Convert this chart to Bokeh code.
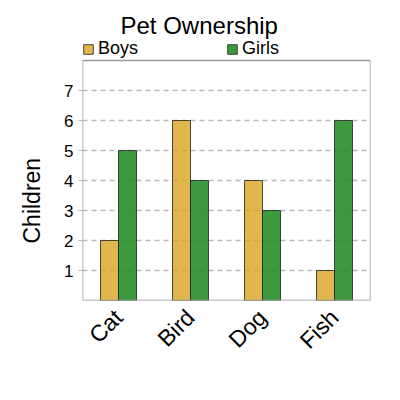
#pet ownership grouped bars

from math import pi
from bokeh.plotting import figure
from bokeh.models import (ColumnDataSource, FixedTicker, Legend, LegendItem, Title,
                          Range1d, BoxAnnotation)
from bokeh.transform import dodge
from bokeh.embed import file_html
from bokeh.resources import INLINE

#data
pets = ["Cat", "Bird", "Dog", "Fish"]
boys = [2, 6, 4, 1]
girls = [5, 4, 3, 6]
y_ticks = [1, 2, 3, 4, 5, 6, 7]
y_max = 8

src = ColumnDataSource(data=dict(pets=pets, boys=boys, girls=girls))

FONT = "Liberation Sans"

#the frame is taller than the drawn box so the legend fits inside it
p = figure(x_range=pets, y_range=Range1d(0, y_max + 22 / 30),
           width=392, height=392,
           min_border_left=80, min_border_top=38, min_border_right=22, min_border_bottom=92,
           output_backend="svg", toolbar_location=None,
           title="Pet Ownership")

p.title.text_font = FONT
p.title.text_font_size = "24px"
p.title.text_font_style = "normal"
p.title.text_color = "black"
p.title.align = "left"
p.title.offset = 38
p.title.standoff = 0

r1 = p.vbar(x=dodge("pets", -0.125, range=p.x_range), top="boys", width=0.25, source=src,
            fill_color="goldenrod", fill_alpha=0.8, line_color="#222222", line_alpha=0.8)
r2 = p.vbar(x=dodge("pets", 0.125, range=p.x_range), top="girls", width=0.25, source=src,
            fill_color="forestgreen", fill_alpha=0.88, line_color="#222222", line_alpha=0.8)

#plot box
p.add_layout(BoxAnnotation(bottom=0, top=y_max, fill_alpha=0,
                           line_color="#999999", line_alpha=1, line_width=1.5))

legend = Legend(items=[LegendItem(label="Boys", renderers=[r1]),
                       LegendItem(label="Girls", renderers=[r2])],
                orientation="horizontal", location=(0, 241),
                label_text_font=FONT, label_text_font_size="18px", label_text_color="black",
                glyph_width=12, glyph_height=12, label_standoff=4,
                spacing=88, padding=0, margin=0,
                border_line_color=None, background_fill_alpha=0)
p.add_layout(legend)

#y label as a side title
p.add_layout(Title(text="Children", align="left", offset=57, standoff=33,
                   text_font=FONT, text_font_size="23px", text_font_style="normal",
                   text_color="black"), "left")

#axes
p.yaxis.ticker = FixedTicker(ticks=y_ticks)
p.yaxis.major_label_text_font = FONT
p.yaxis.major_label_text_font_size = "17px"
p.yaxis.major_label_text_color = "black"
p.yaxis.major_tick_in = 0
p.yaxis.major_tick_out = 4
p.yaxis.minor_tick_line_color = None
p.yaxis.axis_line_color = None
p.yaxis.major_tick_line_color = "#bbbbbb"

p.xaxis.major_label_orientation = pi / 4
p.xaxis.major_label_text_font = FONT
p.xaxis.major_label_text_font_size = "23px"
p.xaxis.major_label_text_color = "black"
p.xaxis.major_tick_line_color = None
p.xaxis.axis_line_color = None
p.xaxis.major_label_standoff = 7

p.xgrid.grid_line_color = None
p.ygrid.grid_line_color = "#bbbbbb"
p.ygrid.grid_line_dash = "5 4"
p.ygrid.grid_line_width = 1.5

p.outline_line_color = None

open("out.html", "w").write(file_html(p, INLINE))
